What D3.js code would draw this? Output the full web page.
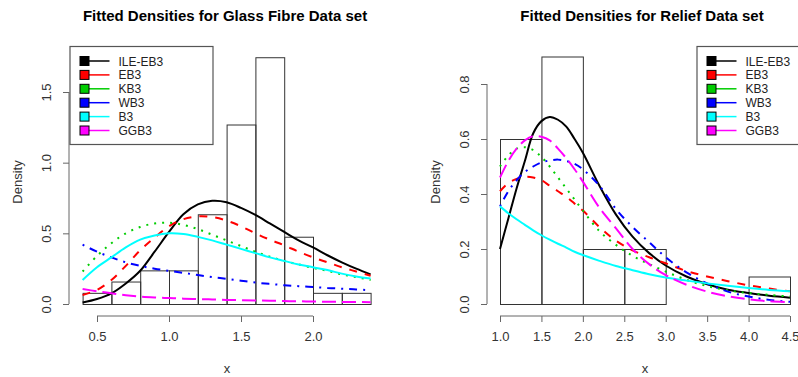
<!DOCTYPE html>
<html>
<head>
<meta charset="utf-8">
<script src="https://cdn.jsdelivr.net/npm/d3@7"></script>
<style>
  body { margin: 0; background: #fff; }
  svg { font-family: "Liberation Sans", Arial, sans-serif; }
</style>
</head>
<body>
<svg id="chart" width="798" height="377"></svg>
<script>
// ---- data: glass fibre panel ----
const glassBreaks = [0.4, 0.6, 0.8, 1.0, 1.2, 1.4, 1.6, 1.8, 2.0, 2.2, 2.4];
const glassHist = [0.079, 0.159, 0.238, 0.238, 0.635, 1.270, 1.746, 0.476, 0.079, 0.079];
const glassGrid = [0.4, 0.5, 0.6, 0.7, 0.8, 0.9, 1.0, 1.1, 1.2, 1.3, 1.4, 1.5, 1.6, 1.7, 1.8, 1.9, 2.0, 2.1, 2.2, 2.3, 2.4];
const glassILE = [0.01, 0.035, 0.075, 0.145, 0.235, 0.37, 0.51, 0.635, 0.705, 0.73, 0.72, 0.68, 0.63, 0.57, 0.51, 0.45, 0.40, 0.345, 0.295, 0.25, 0.21];
const glassEB3 = [0.064, 0.10, 0.17, 0.27, 0.38, 0.47, 0.55, 0.60, 0.62, 0.615, 0.59, 0.55, 0.50, 0.455, 0.415, 0.37, 0.33, 0.295, 0.26, 0.23, 0.20];
const glassKB3 = [0.23, 0.34, 0.43, 0.50, 0.545, 0.57, 0.575, 0.56, 0.53, 0.49, 0.45, 0.41, 0.37, 0.335, 0.305, 0.28, 0.255, 0.235, 0.21, 0.19, 0.17];
const glassWB3 = [0.42, 0.37, 0.33, 0.295, 0.27, 0.25, 0.235, 0.22, 0.205, 0.19, 0.178, 0.165, 0.152, 0.142, 0.133, 0.126, 0.12, 0.114, 0.108, 0.103, 0.098];
const glassB3 = [0.17, 0.26, 0.33, 0.40, 0.455, 0.485, 0.50, 0.495, 0.475, 0.45, 0.42, 0.39, 0.36, 0.33, 0.305, 0.28, 0.26, 0.24, 0.215, 0.195, 0.18];
const glassGGB3 = [0.106, 0.09, 0.076, 0.062, 0.052, 0.046, 0.042, 0.038, 0.035, 0.032, 0.029, 0.027, 0.025, 0.023, 0.021, 0.019, 0.018, 0.016, 0.015, 0.014, 0.013];
const glassXTicks = [0.5, 1.0, 1.5, 2.0];
const glassYTicks = [0.0, 0.5, 1.0, 1.5];

// ---- data: relief panel ----
const reliefBreaks = [1.0, 1.5, 2.0, 2.5, 3.0, 3.5, 4.0, 4.5];
const reliefHist = [0.6, 0.9, 0.2, 0.2, 0.0, 0.0, 0.1];
const reliefGrid = [1.0, 1.1, 1.2, 1.3, 1.4, 1.5, 1.6, 1.7, 1.8, 1.9, 2.0, 2.2, 2.4, 2.6, 2.8, 3.0, 3.25, 3.5, 3.75, 4.0, 4.25, 4.5];
const reliefILE = [0.2, 0.31, 0.42, 0.52, 0.62, 0.665, 0.68, 0.67, 0.645, 0.60, 0.55, 0.43, 0.325, 0.245, 0.185, 0.14, 0.10, 0.072, 0.052, 0.04, 0.03, 0.023];
const reliefEB3 = [0.41, 0.44, 0.455, 0.462, 0.46, 0.45, 0.43, 0.41, 0.39, 0.365, 0.34, 0.28, 0.23, 0.195, 0.17, 0.148, 0.12, 0.10, 0.083, 0.068, 0.056, 0.046];
const reliefKB3 = [0.50, 0.54, 0.565, 0.57, 0.56, 0.535, 0.50, 0.46, 0.42, 0.38, 0.34, 0.265, 0.215, 0.175, 0.145, 0.118, 0.088, 0.065, 0.05, 0.04, 0.033, 0.027];
const reliefWB3 = [0.355, 0.41, 0.45, 0.48, 0.50, 0.515, 0.522, 0.525, 0.52, 0.51, 0.49, 0.43, 0.345, 0.28, 0.225, 0.17, 0.115, 0.075, 0.045, 0.027, 0.015, 0.008];
const reliefB3 = [0.355, 0.33, 0.308, 0.288, 0.268, 0.25, 0.234, 0.219, 0.205, 0.19, 0.178, 0.157, 0.138, 0.123, 0.108, 0.096, 0.085, 0.075, 0.066, 0.058, 0.051, 0.046];
const reliefGGB3 = [0.46, 0.52, 0.565, 0.595, 0.61, 0.608, 0.595, 0.565, 0.53, 0.49, 0.445, 0.35, 0.275, 0.20, 0.145, 0.105, 0.07, 0.045, 0.028, 0.017, 0.01, 0.006];
const reliefXTicks = [1.0, 1.5, 2.0, 2.5, 3.0, 3.5, 4.0, 4.5];
const reliefYTicks = [0.0, 0.2, 0.4, 0.6, 0.8];

const seriesNames = ['ILE-EB3', 'EB3', 'KB3', 'WB3', 'B3', 'GGB3'];
const seriesColors = ['#000000', '#ff0000', '#00cd00', '#0000ff', '#00ffff', '#ff00ff'];
const seriesDash = [null, '8,8', '2,6', '2,6,8,6', null, '14,6'];

const svg = d3.select('#chart');

function drawPanel(opt) {
  const x = d3.scaleLinear().domain(opt.xDomain).range(opt.xRange);
  const y = d3.scaleLinear().domain(opt.yDomain).range(opt.yRange);
  const g = svg.append('g');

  // title
  g.append('text')
    .attr('x', opt.titleX).attr('y', 21)
    .attr('text-anchor', 'middle')
    .attr('font-size', 15).attr('font-weight', 'bold')
    .attr('fill', '#000')
    .text(opt.title);

  // histogram
  const bins = opt.hist.map((h, i) => ({ x0: opt.breaks[i], x1: opt.breaks[i + 1], h: h }));
  g.append('g').selectAll('rect')
    .data(bins)
    .enter().append('rect')
    .attr('x', d => x(d.x0) + 0.5)
    .attr('y', d => y(d.h) + 0.5)
    .attr('width', d => x(d.x1) - x(d.x0))
    .attr('height', d => y(0) - y(d.h))
    .attr('fill', 'none')
    .attr('stroke', '#333')
    .attr('stroke-width', 1);

  // fitted curves
  const line = d3.line()
    .x((d, i) => x(opt.grid[i]))
    .y(d => y(d))
    .curve(d3.curveCatmullRom.alpha(0.5));
  opt.curves.forEach((c, k) => {
    g.append('path')
      .attr('d', line(c))
      .attr('fill', 'none')
      .attr('stroke', seriesColors[k])
      .attr('stroke-width', 2)
      .attr('stroke-dasharray', seriesDash[k]);
  });

  // x axis (R style: line spans first to last tick)
  const xAxis = g.append('g').attr('transform', 'translate(0,' + opt.axisY + ')');
  xAxis.call(d3.axisBottom(x).tickValues(opt.xTicks).tickFormat(d3.format('.1f')).tickSize(6).tickSizeOuter(0));
  xAxis.select('.domain').remove();
  xAxis.append('line')
    .attr('x1', x(opt.xTicks[0])).attr('x2', x(opt.xTicks[opt.xTicks.length - 1]))
    .attr('stroke', '#666');
  xAxis.selectAll('.tick line').attr('stroke', '#666');
  xAxis.selectAll('.tick text')
    .attr('y', 16).attr('font-size', 13).attr('fill', '#333')
    .attr('font-family', '"Liberation Sans", Arial, sans-serif');

  // y axis
  const yAxis = g.append('g').attr('transform', 'translate(' + opt.axisX + ',0)');
  yAxis.call(d3.axisLeft(y).tickValues(opt.yTicks).tickFormat(d3.format('.1f')).tickSize(6).tickSizeOuter(0));
  yAxis.select('.domain').remove();
  yAxis.append('line')
    .attr('y1', y(opt.yTicks[0])).attr('y2', y(opt.yTicks[opt.yTicks.length - 1]))
    .attr('stroke', '#666');
  yAxis.selectAll('.tick line').attr('stroke', '#666');
  yAxis.selectAll('.tick text')
    .attr('x', 0).attr('dy', 0)
    .attr('transform', 'translate(-18,0) rotate(-90)')
    .attr('text-anchor', 'middle')
    .attr('font-size', 13).attr('fill', '#333')
    .attr('font-family', '"Liberation Sans", Arial, sans-serif');

  // axis titles
  g.append('text')
    .attr('x', opt.xLabelX).attr('y', 373)
    .attr('text-anchor', 'middle').attr('font-size', 13).attr('fill', '#333')
    .text('x');
  g.append('text')
    .attr('transform', 'translate(' + (opt.axisX - 47) + ',182) rotate(-90)')
    .attr('text-anchor', 'middle').attr('font-size', 13).attr('fill', '#333')
    .text('Density');

  // legend
  const lg = g.append('g').attr('transform', 'translate(' + opt.legendX + ',46)');
  lg.append('rect')
    .attr('x', 0.5).attr('y', 0.5)
    .attr('width', opt.legendW).attr('height', 98)
    .attr('fill', 'none').attr('stroke', '#555').attr('stroke-width', 1.2);
  const item = lg.selectAll('g.item')
    .data(seriesNames)
    .enter().append('g')
    .attr('class', 'item')
    .attr('transform', (d, i) => 'translate(0,' + (15 + i * 13.9) + ')');
  item.append('line')
    .attr('x1', 14).attr('x2', 40)
    .attr('stroke', (d, i) => seriesColors[i]).attr('stroke-width', 1.5);
  item.append('rect')
    .attr('x', 10.5).attr('y', -4.5)
    .attr('width', 9).attr('height', 9)
    .attr('fill', (d, i) => seriesColors[i])
    .attr('stroke', '#000').attr('stroke-width', 1);
  item.append('text')
    .attr('x', 49).attr('y', 4.5)
    .attr('font-size', 12).attr('fill', '#222')
    .text(d => d);
}

drawPanel({
  title: 'Fitted Densities for Glass Fibre Data set',
  titleX: 225, xLabelX: 227,
  xDomain: [0.5, 2.0], xRange: [97, 313],
  yDomain: [0, 1.5], yRange: [304, 92],
  axisX: 69, axisY: 316,
  breaks: glassBreaks, hist: glassHist,
  grid: glassGrid,
  curves: [glassILE, glassEB3, glassKB3, glassWB3, glassB3, glassGGB3],
  xTicks: glassXTicks, yTicks: glassYTicks,
  legendX: 69.5, legendW: 143
});

drawPanel({
  title: 'Fitted Densities for Relief Data set',
  titleX: 642, xLabelX: 645,
  xDomain: [1.0, 4.5], xRange: [500, 790],
  yDomain: [0, 0.8], yRange: [304, 84],
  axisX: 487, axisY: 316,
  breaks: reliefBreaks, hist: reliefHist,
  grid: reliefGrid,
  curves: [reliefILE, reliefEB3, reliefKB3, reliefWB3, reliefB3, reliefGGB3],
  xTicks: reliefXTicks, yTicks: reliefYTicks,
  legendX: 696.5, legendW: 120
});
</script>
</body>
</html>
